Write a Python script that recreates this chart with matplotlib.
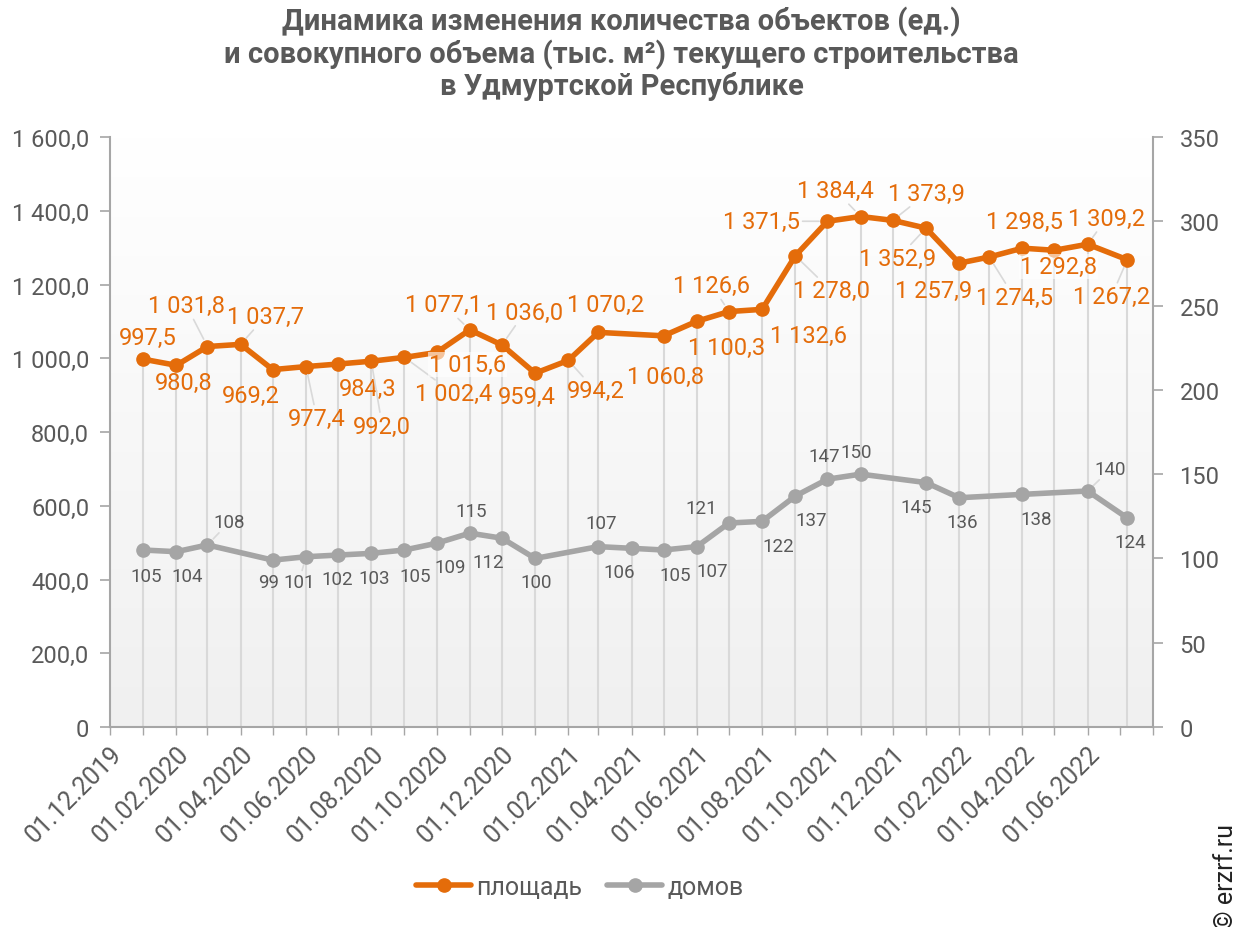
import numpy as np
import pandas as pd
import matplotlib
matplotlib.use('Agg')
import matplotlib.pyplot as plt
import matplotlib.dates as mdates
from matplotlib.ticker import FuncFormatter, MultipleLocator

plt.rcParams['font.family'] = ['Roboto', 'DejaVu Sans']

# ---- data ----
dates = ['01.01.2020', '01.02.2020', '01.03.2020', '01.04.2020', '01.05.2020', '01.06.2020',
         '01.07.2020', '01.08.2020', '01.09.2020', '01.10.2020', '01.11.2020', '01.12.2020',
         '01.01.2021', '01.02.2021', '01.03.2021', '01.04.2021', '01.05.2021', '01.06.2021',
         '01.07.2021', '01.08.2021', '01.09.2021', '01.10.2021', '01.11.2021', '01.12.2021',
         '01.01.2022', '01.02.2022', '01.03.2022', '01.04.2022', '01.05.2022', '01.06.2022',
         '08.07.2022']
area = [997.5, 980.8, 1031.8, 1037.7, 969.2, 977.4, 984.3, 992.0, 1002.4, 1015.6, 1077.1, 1036.0,
        959.4, 994.2, 1070.2, None, 1060.8, 1100.3, 1126.6, 1132.6, 1278.0, 1371.5, 1384.4, 1373.9,
        1352.9, 1257.9, 1274.5, 1298.5, 1292.8, 1309.2, 1267.2]
houses = [105, 104, 108, None, 99, 101, 102, 103, 105, 109, 115, 112,
          100, None, 107, 106, 105, 107, 121, 122, 137, 147, 150, None,
          145, 136, None, 138, None, 140, 124]

# label offsets in pixels (dx right, dy down) and whether a leader line is drawn
area_off = [(5, -22, 0), (7, 17, 0), (-21, -41, 1), (25, -28, 1), (-22, 26, 0), (11, 52, 1),
            (30, 24, 0), (11, 65, 1), (49, 36, 1), (31, 12, 0), (-26, -25, 1), (23, -33, 1),
            (-8, 23, 0), (27, 30, 1), (7, -28, 0), None, (2, 41, 0), (30, 26, 0),
            (-17, -26, 1), (46, 26, 0), (36, 35, 1), (-66, 0, 1), (-25, -26, 1), (34, -27, 1),
            (-28, 30, 1), (-26, 27, 0), (25, 40, 1), (2, -27, 0), (4, 16, 0), (19, -26, 1),
            (-16, 37, 1)]
houses_off = [(3, 26, 0), (11, 24, 0), (22, -23, 1), None, (-4, 22, 0), (-7, 25, 1),
              (-1, 24, 0), (3, 25, 0), (11, 26, 0), (14, 24, 0), (1, -22, 0), (-14, 24, 0),
              (1, 24, 0), None, (3, -24, 0), (-12, 24, 0), (12, 25, 0), (15, 24, 0),
              (-28, -15, 0), (16, 25, 0), (16, 24, 0), (-3, -23, 0), (-4, -22, 0), None,
              (-10, 24, 0), (3, 24, 0), None, (14, 25, 0), None, (23, -22, 1), (3, 24, 0)]
# labels that sit on top of the line get a pale backing
area_boxed = {'01.10.2020', '01.05.2022'}

x = pd.to_datetime(dates, format='%d.%m.%Y')
area_s = pd.Series(area, index=x, dtype=float)
houses_s = pd.Series(houses, index=x, dtype=float)

ORANGE = '#e46c0a'
GRAY = '#a5a5a5'
TXT = '#595959'
AX = '#a6a6a6'


def fmt_ru(v, pos=None):
    if v == 0:
        return '0'
    return f'{v:,.1f}'.replace(',', ' ').replace('.', ',')


fig = plt.figure(figsize=(12.43, 9.28), dpi=100)
ax = fig.add_axes([110 / 1243, 1 - 728 / 928, 1043 / 1243, 590 / 928])
ax2 = ax.twinx()

ymax1, ymax2 = 1600, 350

# background gradient
grad = np.linspace(0, 1, 256).reshape(-1, 1)
ax.imshow(grad, extent=[0, 1, 0, 1], transform=ax.transAxes, aspect='auto',
          cmap=matplotlib.colors.LinearSegmentedColormap.from_list('g', ['#ffffff', '#f0f0f0']),
          zorder=0)

# drop lines from highest point to axis
tops = area_s.fillna(houses_s * ymax1 / ymax2)
ax.vlines(x, 0, tops.values, color='#d9d9d9', lw=1.5, zorder=1)

a = area_s.dropna()
h = houses_s.dropna()
ax.plot(a.index, a.values, color=ORANGE, lw=4, marker='o', ms=9.5, zorder=5,
        solid_capstyle='round', label='площадь')
ax2.plot(h.index, h.values, color=GRAY, lw=4, marker='o', ms=9.5, zorder=5,
         solid_capstyle='round', label='домов')

# data labels
lead_style = dict(arrowstyle='-', color='#d9d9d9', lw=1.2, shrinkA=1, shrinkB=6)
for d, xi, v, off in zip(dates, x, area, area_off):
    if v is None:
        continue
    dx, dy, lead = off
    box = dict(boxstyle='square,pad=0.05', ec='none',
               fc=(1, 1, 1, 0.6) if d in area_boxed else 'none')
    ax.annotate(fmt_ru(v), (xi, v), xytext=(dx, -dy), textcoords='offset pixels',
                ha='center', va='center', fontsize=17, color=ORANGE, zorder=6,
                bbox=box, arrowprops=lead_style if lead else None)
for xi, v, off in zip(x, houses, houses_off):
    if v is None:
        continue
    dx, dy, lead = off
    ax2.annotate(f'{v:d}', (xi, v), xytext=(dx, -dy), textcoords='offset pixels',
                 ha='center', va='center', fontsize=13.5, color=TXT, zorder=6,
                 bbox=dict(boxstyle='square,pad=0.05', fc='none', ec='none'),
                 arrowprops=lead_style if lead else None)

# axes
ax.set_xlim(pd.Timestamp('2019-12-01'), pd.Timestamp('2022-08-01'))
ax.set_ylim(0, ymax1)
ax2.set_ylim(0, ymax2)
ax.yaxis.set_major_locator(MultipleLocator(200))
ax.yaxis.set_major_formatter(FuncFormatter(fmt_ru))
ax2.yaxis.set_major_locator(MultipleLocator(50))

tick_dates = pd.date_range('2019-12-01', '2022-06-01', freq='2MS')
ax.set_xticks(tick_dates)
ax.set_xticklabels([d.strftime('%d.%m.%Y') for d in tick_dates], rotation=45,
                   ha='right', va='top', rotation_mode='anchor', fontsize=18, color=TXT)
ax.xaxis.set_minor_locator(mdates.MonthLocator())

for a_ in (ax, ax2):
    for s in a_.spines.values():
        s.set_visible(False)
ax.spines['left'].set_visible(True)
ax.spines['bottom'].set_visible(True)
ax2.spines['right'].set_visible(True)
for s in (ax.spines['left'], ax.spines['bottom'], ax2.spines['right']):
    s.set_color(AX)
    s.set_linewidth(1.5)

ax.tick_params(axis='x', which='both', length=6, width=1, color=AX, pad=4)
ax.tick_params(axis='y', length=7, width=1.2, color=AX, labelsize=17, labelcolor=TXT, pad=8)
ax2.tick_params(axis='y', length=7, width=1.2, color=AX, labelsize=17, labelcolor=TXT, pad=12)

# title
fig.text(0.5, 1 - 54 / 928, 'Динамика изменения количества объектов (ед.)\n'
         'и совокупного объема (тыс. м²) текущего строительства\nв Удмуртской Республике',
         ha='center', va='center', fontsize=21, fontweight='bold', color=TXT, linespacing=1.12)

# legend
h1, l1 = ax.get_legend_handles_labels()
h2, l2 = ax2.get_legend_handles_labels()
fig.legend(h1 + h2, l1 + l2, loc='center', bbox_to_anchor=(580 / 1243, 1 - 888 / 928), ncol=2,
           frameon=False, fontsize=18, labelcolor=TXT, handlelength=2.2, handletextpad=0.2,
           columnspacing=1.0)

fig.text(1226 / 1243, 1 - 877 / 928, '© erzrf.ru', rotation=90, ha='center', va='center',
         fontsize=18, color='#222222')

fig.savefig('out.png', dpi=100)
